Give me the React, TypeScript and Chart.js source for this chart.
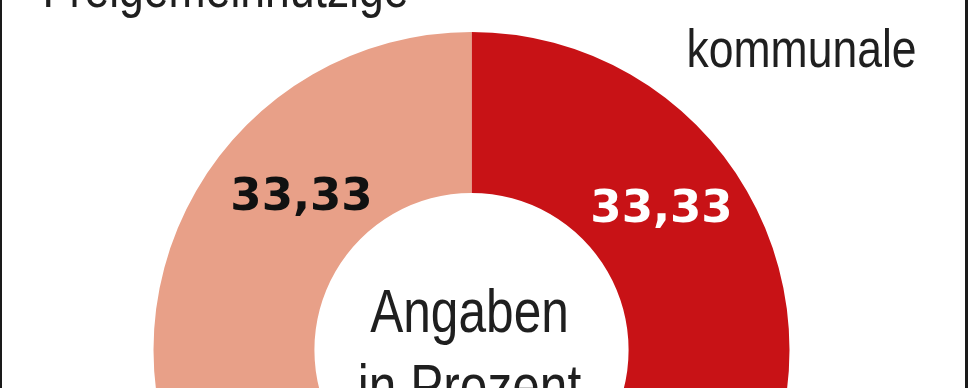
import React, { useEffect, useRef } from "react";
import { Chart, registerables } from "chart.js";

Chart.register(...registerables);

const categories = ["kommunale", "private", "Freigemeinnützige"];
const values = [33.33, 33.34, 33.33];
const colors = ["#C81216", "#8C8C8C", "#E8A088"];
const labelColors = ["#FFFFFF", "#FFFFFF", "#111111"];
const centerLines = ["Angaben", "in Prozent"];

const fmt = (v: number) => v.toFixed(2).replace(".", ",");

const W = 970;
const H = 700;

export default function App() {
  const ref = useRef<HTMLCanvasElement | null>(null);

  useEffect(() => {
    document.body.style.margin = "0";
    const canvas = ref.current;
    if (!canvas) return;

    const textPlugin = {
      id: "textPlugin",
      afterDraw(chart: any) {
        const ctx = chart.ctx as CanvasRenderingContext2D;
        const meta = chart.getDatasetMeta(0);
        const arc0 = meta.data[0] as any;
        const cx = arc0.x;
        const cy = arc0.y;
        ctx.save();
        // frame lines
        ctx.fillStyle = "#1a1a1a";
        ctx.fillRect(0, 0, 2, H);
        ctx.fillRect(965, 0, 3, H);

        const narrow = (txt: string, x: number, y: number, size: number, sx: number, color: string) => {
          ctx.save();
          ctx.translate(x, y);
          ctx.scale(sx, 1);
          ctx.font = `${size}px "Liberation Sans", Arial, sans-serif`;
          ctx.fillStyle = color;
          ctx.textAlign = "center";
          ctx.textBaseline = "alphabetic";
          ctx.fillText(txt, 0, 0);
          ctx.restore();
        };

        // category labels
        narrow(categories[0], cx + 330, cy - 283, 53, 0.84, "#1f1f1f");
        narrow(categories[2], cx - 246, cy - 343, 53, 0.84, "#1f1f1f");

        // center text
        narrow(centerLines[0], cx - 2, cy - 18, 62, 0.8, "#1f1f1f");
        narrow(centerLines[1], cx - 2, cy + 57, 62, 0.8, "#1f1f1f");

        // value labels
        ctx.font = `bold 45px "DejaVu Sans", sans-serif`;
        ctx.textAlign = "center";
        ctx.textBaseline = "alphabetic";
        ctx.fillStyle = labelColors[0];
        ctx.fillText(fmt(values[0]), cx + 190, cy - 128);
        ctx.fillStyle = labelColors[2];
        ctx.fillText(fmt(values[2]), cx - 170, cy - 140);
        ctx.restore();
      },
    };

    const chart = new Chart(canvas, {
      type: "doughnut",
      data: {
        labels: categories,
        datasets: [
          {
            data: values,
            backgroundColor: colors,
            borderWidth: 0,
          },
        ],
      },
      options: {
        responsive: false,
        animation: false,
        cutout: "49.4%",
        layout: { padding: { top: 32, bottom: 32, left: 153.5, right: 180.5 } },
        plugins: {
          legend: { display: false },
          tooltip: { enabled: false },
        },
      },
      plugins: [textPlugin],
    });
    return () => chart.destroy();
  }, []);

  return (
    <div style={{ width: W, height: 388, overflow: "hidden", position: "relative", background: "#fff" }}>
      <canvas ref={ref} width={W} height={H} style={{ display: "block" }} />
    </div>
  );
}
